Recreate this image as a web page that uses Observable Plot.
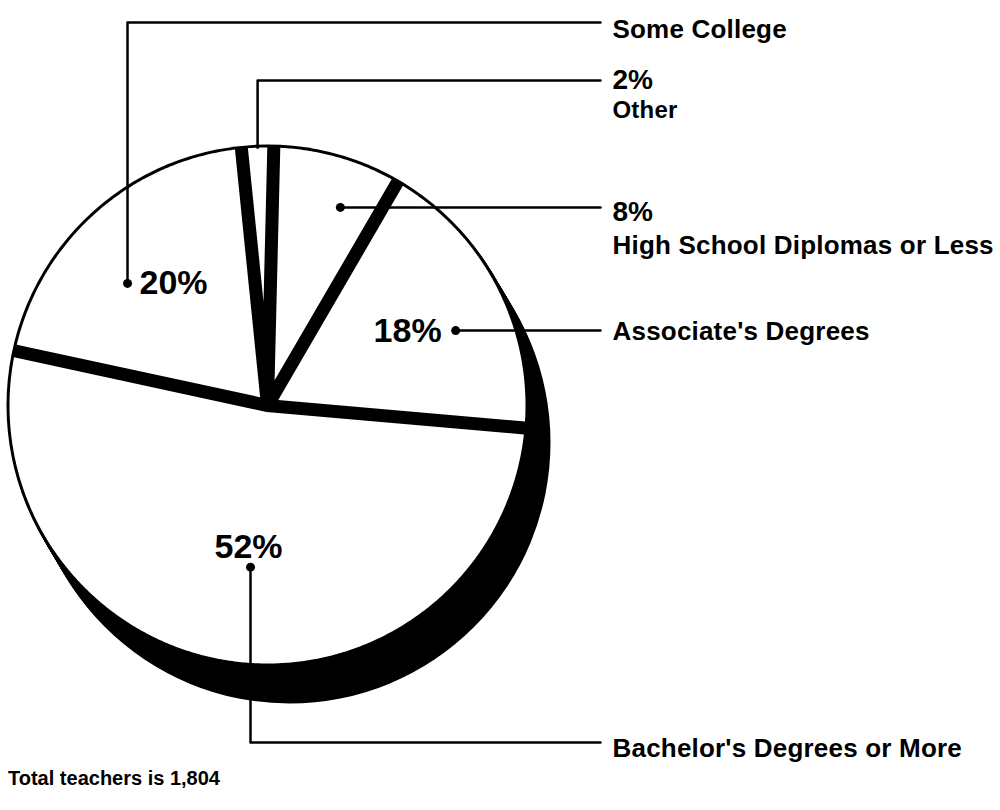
<!DOCTYPE html>
<html><head><meta charset="utf-8">
<script src="https://cdn.jsdelivr.net/npm/d3@7"></script>
<script src="https://cdn.jsdelivr.net/npm/@observablehq/plot@0.6"></script>
<style>
body{margin:0;background:#fff;}
#caption{font-family:"Liberation Sans",Arial,sans-serif;font-weight:bold;font-size:20px;line-height:24px;padding-left:8px;color:#000;}
.wide text{letter-spacing:0.2px;}
</style></head><body>
<div id="chart"></div>
<div id="caption">Total teachers is 1,804</div>
<script>
// ---- data ----
const categories = ["Bachelor's Degrees or More", "Some College", "Other", "High School Diplomas or Less", "Associate's Degrees"];
const values = [52, 20, 2, 8, 18];
const percentLabels = ["52%", "20%", "2%", "8%", "18%"];

// ---- layout ----
const W = 1000, H = 766;
const CX = 267, CY = 405, R = 258, PAD = 6.5, RIM = 3;
const START = 95;              // degrees clockwise from 12 o'clock
const SHADOW = [22, 37];       // depth of the 3-D rim
const LEADER_X = 600, LABEL_X = 612;
const FONT = "'Liberation Sans', Arial, Helvetica, sans-serif";
const anchorLayout = {
  "Bachelor's Degrees or More": {da: -2.6, rf: 0.63, leaderY: 742, nameY: 756, nameSize: 26, pctY: null, inner: "above"},
  "Some College": {da: -7.1, rf: 0.72, leaderY: 22, nameY: 37, nameSize: 26, pctY: null, inner: "right"},
  "Other": {da: 0, rf: 1.0, leaderY: 80, nameY: 117, nameSize: 24, pctY: 88, inner: null, noDot: true},
  "High School Diplomas or Less": {da: 4.4, rf: 0.818, leaderY: null, nameY: 253, nameSize: 26, pctY: 220, inner: null},
  "Associate's Degrees": {da: 5.7, rf: 0.785, leaderY: null, nameY: 339, nameSize: 26, pctY: null, inner: "left"}
};

// ---- geometry derived from the data ----
const total = d3.sum(values);
const rad = d => d * Math.PI / 180;
const pt = (a, r) => [CX + r * Math.sin(a), CY - r * Math.cos(a)];
let acc = rad(START);
const slices = categories.map((c, i) => {
  const span = values[i] / total * 2 * Math.PI;
  const s = {category: c, value: values[i], pct: percentLabels[i], a0: acc, a1: acc + span};
  acc += span;
  return s;
});

const slicePts = [];
for (const s of slices) {
  const h = (s.a1 - s.a0) / 2, m = s.a0 + h;
  const apex = pt(m, PAD / Math.sin(h));
  const e = Math.asin(PAD / R);
  const b0 = s.a0 + e, b1 = s.a1 - e;
  const n = Math.max(2, Math.ceil((b1 - b0) / rad(0.5)));
  slicePts.push({category: s.category, x: apex[0], y: apex[1]});
  for (let k = 0; k <= n; k++) {
    const [x, y] = pt(b0 + (b1 - b0) * k / n, R);
    slicePts.push({category: s.category, x, y});
  }
  slicePts.push({category: s.category, x: apex[0], y: apex[1]});
}

// shadow / rim discs
const shadowSteps = d3.range(0, 1.0001, 0.05).map(t => ({x: CX + SHADOW[0] * t, y: CY + SHADOW[1] * t}));

// label anchors & leaders
const anchors = slices.map(s => {
  const L = anchorLayout[s.category];
  const a = (s.a0 + s.a1) / 2 + rad(L.da);
  const [x, y] = pt(a, R * L.rf);
  return {...s, ...L, x, y};
});
const leaderPts = [];
for (const a of anchors) {
  leaderPts.push({category: a.category, x: a.x, y: a.y});
  if (a.leaderY != null) {
    leaderPts.push({category: a.category, x: a.x, y: a.leaderY});
    leaderPts.push({category: a.category, x: LEADER_X, y: a.leaderY});
  } else {
    leaderPts.push({category: a.category, x: LEADER_X, y: a.y});
  }
}
const dots = anchors.filter(a => !a.noDot);
const names = anchors.map(a => ({x: LABEL_X, y: a.nameY, text: a.category, size: a.nameSize}));
const colPcts = anchors.filter(a => a.pctY != null).map(a => ({x: LABEL_X, y: a.pctY, text: a.pct}));
const innerRight = anchors.filter(a => a.inner === "right").map(a => ({x: a.x + 12, y: a.y + 11, text: a.pct}));
const innerLeft = anchors.filter(a => a.inner === "left").map(a => ({x: a.x - 14, y: a.y + 11, text: a.pct}));
const innerAbove = anchors.filter(a => a.inner === "above").map(a => ({x: a.x - 2, y: a.y - 9, text: a.pct}));

const textOpts = (size, anchor) => ({x: "x", y: "y", text: "text", fontSize: size, fontWeight: "bold",
  fontFamily: FONT, textAnchor: anchor, lineAnchor: "bottom", fill: "black"});

const chart = Plot.plot({
  width: W, height: H,
  marginTop: 0, marginRight: 0, marginBottom: 0, marginLeft: 0,
  x: {domain: [0, W], range: [0, W], axis: null},
  y: {domain: [0, H], range: [0, H], axis: null},
  style: {background: "white", fontFamily: FONT},
  marks: [
    Plot.dot(shadowSteps, {x: "x", y: "y", r: R + RIM, fill: "black", stroke: "none"}),
    Plot.line(slicePts, {x: "x", y: "y", z: "category", fill: "white", stroke: "none", curve: "linear"}),
    Plot.line(leaderPts, {x: "x", y: "y", z: "category", stroke: "black", strokeWidth: 2.5, fill: "none"}),
    Plot.dot(dots, {x: "x", y: "y", r: 4.5, fill: "black", stroke: "none"}),
    Plot.text(names.filter(d => d.size === 26), {...textOpts(26, "start"), className: "wide"}),
    Plot.text(names.filter(d => d.size === 24), {...textOpts(24, "start"), className: "wide"}),
    Plot.text(colPcts, textOpts(28, "start")),
    Plot.text(innerRight, textOpts(34, "start")),
    Plot.text(innerLeft, textOpts(34, "end")),
    Plot.text(innerAbove, textOpts(34, "middle"))
  ]
});
document.getElementById("chart").appendChild(chart);
</script>
</body></html>
